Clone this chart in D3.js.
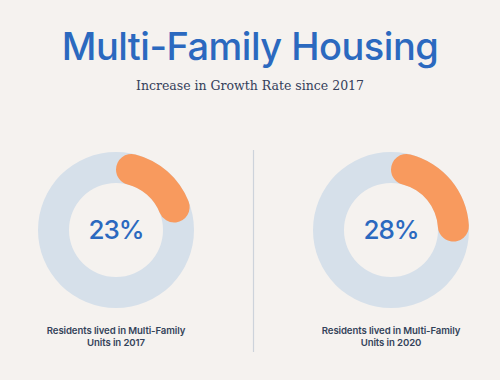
<!DOCTYPE html>
<html><head><meta charset="utf-8">
<script src="https://cdn.jsdelivr.net/npm/d3@7"></script>
<style>
html,body{margin:0;padding:0;background:#f5f2ef;}
svg{display:block;}
</style></head>
<body>
<svg id="chart" width="500" height="380"></svg>
<script>
const title = "Multi-Family Housing";
const subtitle = "Increase in Growth Rate since 2017";
const categories = ["Residents lived in Multi-Family Units in 2017", "Residents lived in Multi-Family Units in 2020"];
const labelLines = [["Residents lived in Multi-Family", "Units in 2017"], ["Residents lived in Multi-Family", "Units in 2020"]];
const values = [23, 28];

const W = 500, H = 380;
const svg = d3.select("#chart");
svg.append("rect").attr("width", W).attr("height", H).attr("fill", "#f5f2ef");

svg.append("text").attr("x", 250).attr("y", 60).attr("text-anchor", "middle")
  .attr("font-family", "Inter, 'Noto Sans', sans-serif").attr("font-size", 38).attr("font-weight", 500)
  .attr("fill", "#2b69bf").attr("letter-spacing", -0.5).text(title);

svg.append("text").attr("x", 250).attr("y", 90).attr("text-anchor", "middle")
  .attr("font-family", "'DejaVu Serif', 'Liberation Serif', serif").attr("font-size", 12.5)
  .attr("fill", "#34405a").text(subtitle);

const x = d3.scalePoint().domain(categories).range([116, 391]);
const angle = d3.scaleLinear().domain([0, 100]).range([0, 2 * Math.PI]);
const rOuter = 78, rInner = 47;
const cy = 230;

const bgArc = d3.arc().innerRadius(rInner).outerRadius(rOuter).startAngle(0).endAngle(2 * Math.PI);
const valArc = d3.arc().innerRadius(rInner).outerRadius(rOuter).cornerRadius(15.5).startAngle(0);

const g = svg.selectAll("g.donut").data(categories).join("g")
  .attr("class", "donut").attr("transform", d => `translate(${x(d)},${cy})`);

g.append("path").attr("d", bgArc()).attr("fill", "#d6e0ea");
g.append("path").attr("d", (d, i) => valArc({endAngle: angle(values[i])})).attr("fill", "#f89a5e");
g.append("text").attr("text-anchor", "middle").attr("dy", "0.36em")
  .attr("font-family", "Inter, 'Noto Sans', sans-serif").attr("font-size", 26).attr("font-weight", 500)
  .attr("letter-spacing", -1)
  .attr("fill", "#2b69bf").text((d, i) => values[i] + "%");

const lbl = svg.selectAll("text.lbl").data(categories).join("text").attr("class", "lbl")
  .attr("x", d => x(d)).attr("y", 334).attr("text-anchor", "middle")
  .attr("font-family", "Inter, 'Noto Sans', sans-serif").attr("font-size", 9.6).attr("font-weight", 600)
  .attr("letter-spacing", -0.1)
  .attr("fill", "#34435a");
lbl.each(function(d, i) {
  const t = d3.select(this);
  labelLines[i].forEach((line, j) => {
    t.append("tspan").attr("x", x(d)).attr("dy", j === 0 ? 0 : 11.5).text(line);
  });
});

svg.append("line").attr("x1", 253.5).attr("x2", 253.5).attr("y1", 150).attr("y2", 352)
  .attr("stroke", "#cdd3db").attr("stroke-width", 1.2);
</script>
</body></html>
